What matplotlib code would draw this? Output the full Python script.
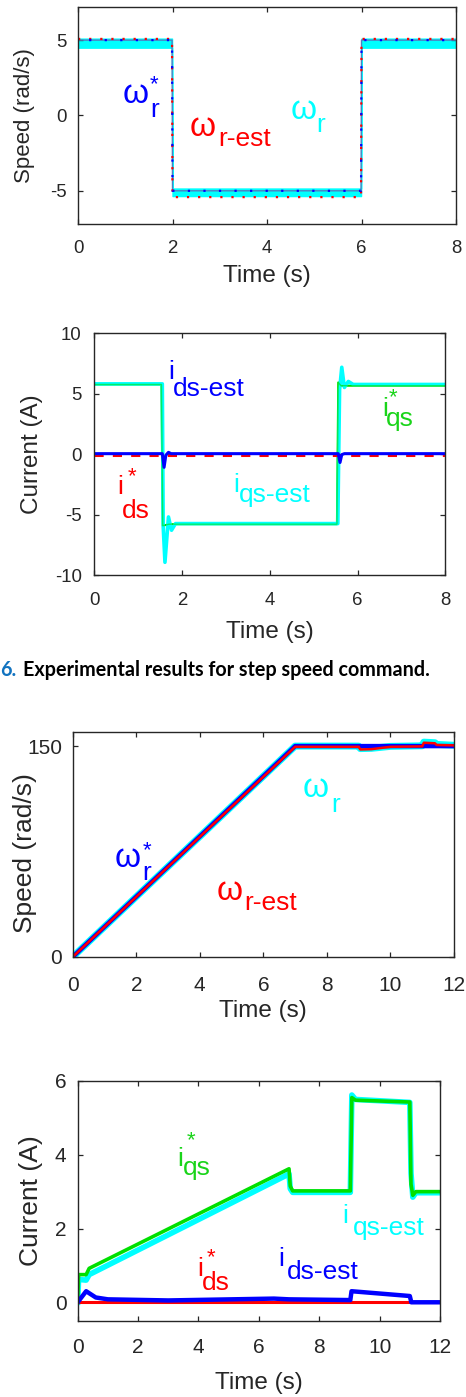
import numpy as np
import matplotlib
matplotlib.use("Agg")
import matplotlib.pyplot as plt

plt.rcParams.update({
    "font.family": ["Liberation Sans", "DejaVu Sans"],
    "axes.linewidth": 1.0,
    "axes.edgecolor": "#262626",
    "axes.unicode_minus": False,
})

BLUE = "#0000ff"
RED = "#ff0000"
CYAN = "#00ffff"
GREEN = "#00e000"

# --- step speed command (panel 1)
t1 = [0, 1.99, 2.0, 5.99, 6.0, 8]
w_cmd1 = [5.0, 5.0, -5.0, -5.0, 5.0, 5.0]
w_est1 = [5.08, 5.08, -5.42, -5.42, 5.08, 5.08]
w_act1_hi = [5.1, 5.1, -4.85, -4.85, 5.1, 5.1]
w_act1_lo = [4.5, 4.5, -5.35, -5.35, 4.5, 4.5]

# --- step speed currents (panel 2)
t2_iqs = [0, 1.53, 1.56, 1.7, 5.53, 5.56, 5.62, 8]
iqs_ref2 = [5.75, 5.75, -5.93, -5.8, -5.8, 5.92, 5.65, 5.65]
t2_iqe = [0, 1.55, 1.57, 1.61, 1.69, 1.76, 1.85, 5.55, 5.59, 5.64, 5.7, 5.79, 5.9, 8]
iqs_est2 = [5.8, 5.8, -6.0, -8.95, -5.2, -6.3, -5.75, -5.75, 5.3, 7.17, 5.5, 6.0, 5.75, 5.75]
t2_ids = [0, 1.55, 1.59, 1.63, 1.69, 1.75, 5.56, 5.6, 5.64, 5.7, 8]
ids_est2 = [0.03, 0.03, -1.1, -0.1, 0.14, 0.03, 0.03, -0.7, -0.05, 0.03, 0.03]
t2_idr = [0, 8]
ids_ref2 = [-0.08, -0.08]

# --- ramp speed command (panel 3)
t3_cmd = [0, 7, 12]
w_cmd3 = [0, 150, 150]
t3 = [0, 7, 9.0, 9.05, 9.4, 10.0, 11.0, 11.05, 11.4, 11.45, 12]
w_est3 = [0, 149.5, 149.5, 147.6, 147.8, 149.5, 149.8, 152.4, 152.0, 150.8, 150.5]
w_act3 = [0, 150, 150, 148.2, 148.4, 149.8, 150.2, 152.8, 152.4, 151.2, 150.6]

# --- ramp currents (panel 4)
t4_q = [0, 0.03, 0.28, 0.38, 7.0, 7.04, 7.12, 9.03, 9.08, 9.2, 11.0, 11.04, 11.1, 11.2, 12]
iqs_ref4 = [0, 0.75, 0.75, 0.92, 3.62, 3.15, 3.02, 3.02, 5.55, 5.48, 5.43, 3.2, 2.9, 3.0, 3.0]
iqs_est4 = [0, 0.62, 0.6, 0.75, 3.48, 3.08, 2.98, 2.98, 5.62, 5.5, 5.42, 3.5, 2.85, 2.97, 2.97]
t4_d = [0, 0.28, 0.6, 1.0, 3.0, 6.5, 7.0, 9.03, 9.07, 11.0, 11.05, 12]
ids_est4 = [0, 0.3, 0.13, 0.08, 0.05, 0.1, 0.08, 0.06, 0.3, 0.17, 0.0, 0.0]
t4_dr = [0, 12]
ids_ref4 = [0.02, 0.02]


def style(ax, xlim, ylim, xt, yt, tick_fs, ylab, ylab_fs, ylab_x, ylab_y, xlab_y, xpad, ypad):
    ax.set_xlim(xlim)
    ax.set_ylim(ylim)
    ax.set_xticks(xt)
    ax.set_yticks(yt)
    ax.tick_params(direction="in", top=True, right=True, length=3.5, width=0.9,
                   color="#262626", labelcolor="#262626", labelsize=tick_fs)
    ax.tick_params(axis="x", pad=xpad)
    ax.tick_params(axis="y", pad=ypad)
    ax.set_xlabel("Time (s)", fontsize=17.5, color="#262626")
    ax.set_ylabel(ylab, fontsize=ylab_fs, color="#262626")
    ax.yaxis.set_label_coords(ylab_x, ylab_y)
    ax.xaxis.set_label_coords(0.5, xlab_y)
    ax.xaxis.label.set_va("top")


def sym(ax, x, y, base, sub, color, sub_off, sup_off=None, fs=19, base_fs=None):
    ax.text(x, y, base, color=color, fontsize=base_fs or fs, va="baseline")
    ax.annotate(sub, (x, y), xytext=(sub_off[0] * 0.72, sub_off[1] * 0.72),
                textcoords="offset points", color=color, fontsize=fs, va="baseline")
    if sup_off is not None:
        ax.annotate("*", (x, y), xytext=(sup_off[0] * 0.72, sup_off[1] * 0.72),
                    textcoords="offset points", color=color, fontsize=16, va="baseline")


fig = plt.figure(figsize=(4.66, 13.97), dpi=100)

# ---------------- panel 1
ax1 = fig.add_axes([0.1674, 0.8397, 0.8112, 0.1553])
ax1.fill_between(t1, w_act1_lo, w_act1_hi, color=CYAN, lw=1.0, edgecolor=CYAN)
ax1.plot(t1, w_cmd1, color="#4f7fc0", lw=1.0)
ax1.plot(t1, w_est1, color=RED, lw=1.6, ls=(0, (1, 4)))
ax1.plot(t1, w_cmd1, color=BLUE, lw=1.6, ls=(2, (1, 6)))
style(ax1, (0, 8), (-7.2, 7.2), [0, 2, 4, 6, 8], [-5, 0, 5], 13.4,
      "Speed (rad/s)", 16, -0.114, 0.5, -0.19, 11.5, 8)
sym(ax1, 0.95, 0.86, "ω", "r", BLUE, (27, -14), (27, 12), base_fs=24)
sym(ax1, 2.37, -1.39, "ω", "r-est", RED, (28, -10), base_fs=24)
sym(ax1, 4.49, -0.26, "ω", "r", CYAN, (26, -13), base_fs=24)

# ---------------- panel 2
ax2 = fig.add_axes([0.2024, 0.5884, 0.7532, 0.1732])
ax2.plot(t2_iqs, iqs_ref2, color=GREEN, lw=1.5)
ax2.plot(t2_iqe, iqs_est2, color=CYAN, lw=2.6)
ax2.plot(t2_iqs, iqs_ref2, color=GREEN, lw=1.0, alpha=0.6)
ax2.plot(t2_idr, ids_ref2, color=RED, lw=2.2, ls=(0, (3, 3)))
ax2.plot(t2_ids, ids_est2, color=BLUE, lw=2.2)
style(ax2, (0, 8), (-10, 10), [0, 2, 4, 6, 8], [-10, -5, 0, 5, 10], 13.4,
      "Current (A)", 17.5, -0.146, 0.5, -0.19, 12, 9)
sym(ax2, 1.68, 6.2, "i", "ds-est", BLUE, (5, -17))
sym(ax2, 6.56, 3.17, "i", "qs", "#1ad41a", (4, -10), (7, 12.7))
sym(ax2, 0.52, -3.3, "i", "ds", RED, (5, -24), (11, 12))
sym(ax2, 3.16, -3.14, "i", "qs-est", CYAN, (6, -10))

fig.text(0.0, 1 - 676 / 1397, "6.", color="#1173c0", fontsize=14.2,
         fontweight="bold", family="Lato", va="baseline")
fig.text(23 / 466, 1 - 676 / 1397, "Experimental results for step speed command.",
         color="black", fontsize=14.2, fontweight="bold", family="Lato", va="baseline")

# ---------------- panel 3
ax3 = fig.add_axes([0.156, 0.315, 0.8183, 0.161])
ax3.plot(t3, w_act3, color=CYAN, lw=5)
ax3.plot(t3_cmd, w_cmd3, color=BLUE, lw=3.2)
ax3.plot(t3, w_est3, color=RED, lw=1.8)
style(ax3, (0, 12), (0, 160), list(range(0, 13, 2)), [0, 150], 15,
      "Speed (rad/s)", 19, -0.094, 0.464, -0.19, 14, 7.7)
sym(ax3, 1.33, 63.9, "ω", "r", BLUE, (27, -13), (28, 11), base_fs=24)
sym(ax3, 4.54, 40.5, "ω", "r-est", RED, (27, -10), base_fs=24)
sym(ax3, 7.25, 113.6, "ω", "r", CYAN, (28, -15), base_fs=24)

# ---------------- panel 4
ax4 = fig.add_axes([0.1667, 0.0546, 0.7775, 0.1716])
ax4.plot(t4_q, iqs_est4, color=CYAN, lw=4)
ax4.plot(t4_q, iqs_ref4, color=GREEN, lw=2.6)
ax4.plot(t4_dr, ids_ref4, color=RED, lw=2.2)
ax4.plot(t4_d, ids_est4, color=BLUE, lw=3.2)
style(ax4, (0, 12), (-0.5, 6), list(range(0, 13, 2)), [0, 2, 4, 6], 15,
      "Current (A)", 19, -0.096, 0.5, -0.213, 12.7, 8)
sym(ax4, 3.29, 3.69, "i", "qs", "#1ad41a", (6, -9), (10, 19.7))
sym(ax4, 8.75, 2.16, "i", "qs-est", CYAN, (11, -12))
sym(ax4, 3.95, 0.71, "i", "ds", RED, (5, -14), (10, 12.7))
sym(ax4, 6.63, 0.98, "i", "ds-est", BLUE, (9, -12.7))

fig.savefig("out.png", dpi=100)
